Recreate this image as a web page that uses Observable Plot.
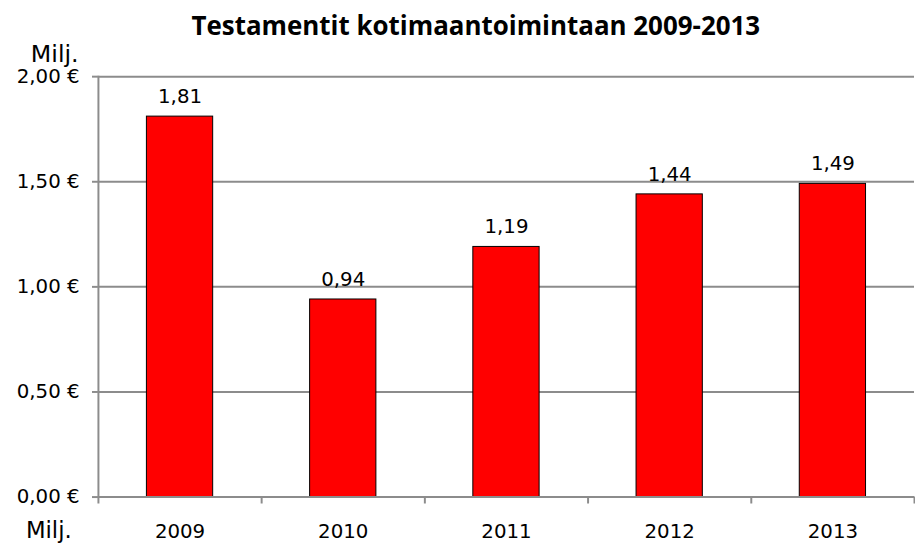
<!DOCTYPE html>
<html>
<head>
<meta charset="utf-8">
<script src="https://cdn.jsdelivr.net/npm/d3@7"></script>
<script src="https://cdn.jsdelivr.net/npm/@observablehq/plot@0.6"></script>
<style>
  html, body { margin: 0; padding: 0; background: #fff; overflow: hidden; }
  #chart { width: 915px; height: 546px; overflow: hidden; }
</style>
</head>
<body>
<div id="chart"></div>
<script>
const title = "Testamentit kotimaantoimintaan 2009-2013";
const unit = "Milj.";
const years = ["2009", "2010", "2011", "2012", "2013"];
const values = [1.81, 0.94, 1.19, 1.44, 1.49];
const valueLabels = ["1,81", "0,94", "1,19", "1,44", "1,49"];
const yTicks = [0, 0.5, 1, 1.5, 2];
const yTickLabels = ["0,00 €", "0,50 €", "1,00 €", "1,50 €", "2,00 €"];

const data = years.map((year, i) => ({year, value: values[i], label: valueLabels[i]}));

const W = 925, H = 546, ML = 99, MR = 1, MT = 77, MB = 44;
const step = (W - ML - MR) / years.length;
const gray = "#8c8c8c";
const font = "DejaVu Sans, Verdana, sans-serif";

const chart = Plot.plot({
  width: W,
  height: H,
  marginLeft: ML,
  marginRight: MR,
  marginTop: MT,
  marginBottom: MB,
  style: {fontFamily: font, color: "#000", background: "#fff", overflow: "visible"},
  x: {type: "band", domain: years, padding: 0},
  y: {domain: [0, 2]},
  marks: [
    Plot.gridY(yTicks, {stroke: gray, strokeOpacity: 1, strokeWidth: 2}),
    Plot.frame({anchor: "left", stroke: gray, strokeWidth: 2}),
    Plot.barY(data, {x: "year", y: "value", fill: "#ff0000", stroke: "#000", strokeWidth: 1, insetLeft: 49, insetRight: 49}),
    Plot.ruleY([0], {stroke: gray, strokeWidth: 2}),
    Plot.axisY(yTicks, {
      label: null, tickSize: 6, tickPadding: 13, stroke: gray, strokeWidth: 2,
      fontSize: 20, fill: "#000",
      tickFormat: d => yTickLabels[yTicks.indexOf(d)]
    }),
    Plot.axisX({label: null, tickSize: 0, tickPadding: 27, fontSize: 20, fill: "#000"}),
    Plot.axisX({label: null, tickSize: 7, tickFormat: null, stroke: gray, strokeWidth: 2, dx: -step / 2}),
    Plot.axisX([years[years.length - 1]], {label: null, tickSize: 7, tickFormat: null, stroke: gray, strokeWidth: 2, dx: step / 2}),
    Plot.text(data, {x: "year", y: "value", text: "label", lineAnchor: "bottom", dy: -14, fontSize: 20, fill: "#000"}),
    Plot.text([unit], {frameAnchor: "top-left", textAnchor: "end", lineAnchor: "middle", dx: -20, dy: -23, fontSize: 24, fill: "#000"}),
    Plot.text([unit], {frameAnchor: "bottom-left", textAnchor: "end", lineAnchor: "middle", dx: -27, dy: 34, fontSize: 23, fill: "#000"}),
    Plot.text([title], {frameAnchor: "top", lineAnchor: "middle", dx: -31, dy: -50, fontSize: 26.2, fontWeight: "bold", fontFamily: "Open Sans, sans-serif", fill: "#000"})
  ]
});

document.getElementById("chart").appendChild(chart);
</script>
</body>
</html>
